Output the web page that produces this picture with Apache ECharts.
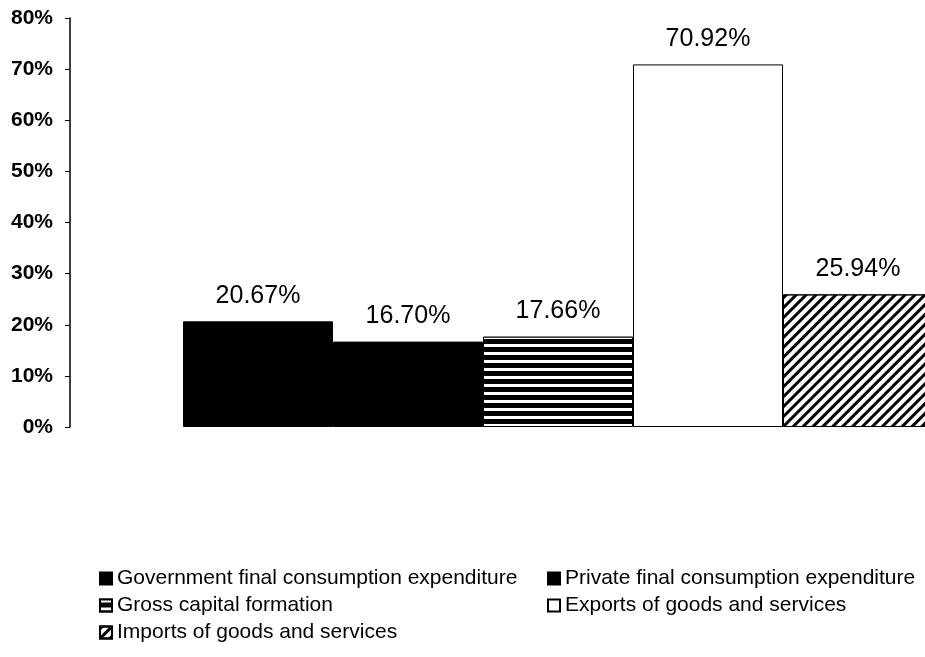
<!DOCTYPE html>
<html><head><meta charset="utf-8">
<script src="https://cdn.jsdelivr.net/npm/echarts@6/dist/echarts.min.js"></script>
<style>html,body{margin:0;padding:0;background:#fff}#c{width:925px;height:657px}</style>
</head><body><div id="c"></div>
<script>
const seriesNames = [
  'Government final consumption expenditure',
  'Private final consumption expenditure',
  'Gross capital formation',
  'Exports of goods and services',
  'Imports of goods and services'
];
const seriesValues = [20.67, 16.70, 17.66, 70.92, 25.94];
const yTicks = [0, 10, 20, 30, 40, 50, 60, 70, 80];
const categories = [''];

const FONT = '"Liberation Sans", Arial, sans-serif';
const styles = [
  { color: '#000' },
  { color: '#000' },
  { color: '#000', decal: { symbol: 'rect', symbolSize: 1, color: '#fff', dashArrayX: [1, 0], dashArrayY: [3, 5], rotation: 0 } },
  { color: '#fff' },
  { color: '#fff', decal: { symbol: 'rect', symbolSize: 1, color: '#000', dashArrayX: [1, 0], dashArrayY: [3, 4], rotation: -Math.PI / 4 } }
];

const series = seriesNames.map((name, i) => ({
  name: name,
  type: 'bar',
  barWidth: '20%',
  barGap: '0%',
  data: [seriesValues[i]],
  itemStyle: Object.assign({ borderColor: '#000', borderWidth: 1 }, styles[i]),
  label: {
    show: true, position: 'top', distance: 13,
    formatter: p => p.value.toFixed(2) + '%',
    color: '#000', fontSize: 25, fontFamily: FONT
  }
}));

const legendCommon = {
  orient: 'vertical', top: 568, itemGap: 6, padding: 0,
  icon: 'rect', itemWidth: 12, itemHeight: 12,
  textStyle: { color: '#000', fontSize: 21, fontFamily: FONT, padding: [0, 0, 0, 0] }
};

const chart = echarts.init(document.getElementById('c'));
chart.setOption({
  animation: false,
  backgroundColor: '#fff',
  grid: { left: 183, top: 18, bottom: 230, right: -8, outerBoundsMode: 'none' },
  xAxis: {
    type: 'category', data: categories,
    axisLine: { show: false }, axisTick: { show: false }, axisLabel: { show: false }
  },
  yAxis: {
    type: 'value', min: yTicks[0], max: yTicks[yTicks.length - 1], interval: 10,
    offset: 113,
    axisLine: { show: true, lineStyle: { color: '#000', width: 1.5 } },
    axisTick: { show: true, length: 5, lineStyle: { color: '#000' } },
    splitLine: { show: false },
    axisLabel: { formatter: v => v + '%', color: '#000', fontSize: 21, fontWeight: 'bold', fontFamily: FONT, margin: 17 }
  },
  legend: [
    Object.assign({ data: [seriesNames[0], seriesNames[2], seriesNames[4]], left: 99 }, legendCommon),
    Object.assign({ data: [seriesNames[1], seriesNames[3]], left: 547 }, legendCommon)
  ],
  series: series
});
</script></body></html>
